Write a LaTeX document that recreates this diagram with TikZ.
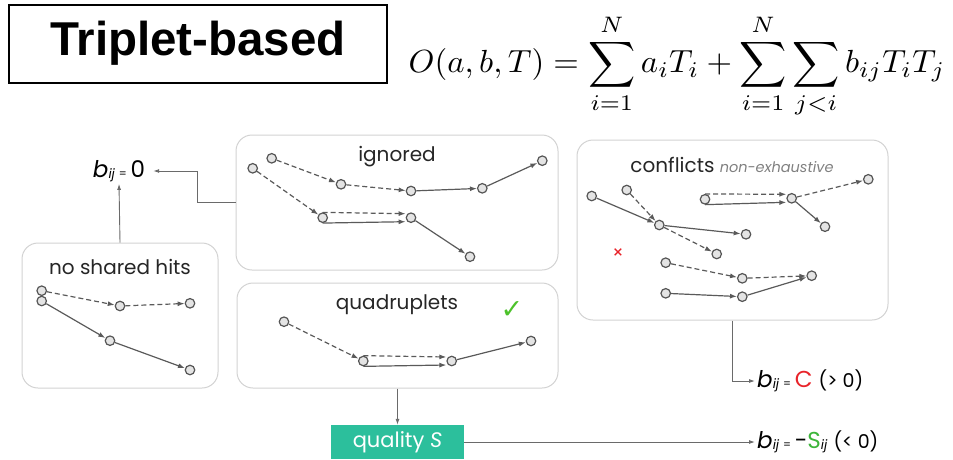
\documentclass[tikz,border=0pt]{standalone}
\usepackage{amsmath}
\usepackage{fontspec}
\usetikzlibrary{arrows.meta,positioning}
\newfontfamily\qfont{Poppins}
\newfontfamily\hfont{Liberation Sans}
\newfontfamily\symfont{DejaVu Sans}
\definecolor{hitfill}{HTML}{E4E4E4}
\definecolor{hitdraw}{HTML}{555555}
\definecolor{trkgray}{HTML}{5A5A5A}
\definecolor{panelgray}{HTML}{D2D2D2}
\definecolor{linkgray}{HTML}{6A6A6A}
\definecolor{qteal}{HTML}{2CBF9C}
\definecolor{cred}{HTML}{E8232A}
\definecolor{cgreen}{HTML}{3DB53A}
\definecolor{chkgreen}{HTML}{4DC22B}
\newcommand{\bijlabel}{{\itshape b}\raisebox{-1pt}{\fontsize{13}{13}\selectfont\itshape ij}\,{\fontsize{11}{11}\selectfont =}\,}

\begin{document}
\begin{tikzpicture}[x=1pt,y=-1pt,
  hit/.style={circle, draw=hitdraw, fill=hitfill, line width=1.2pt, minimum size=9.5pt, inner sep=0pt},
  trk/.style={draw=trkgray, line width=1.2pt, -{Latex[length=7pt,width=5pt]}},
  seed/.style={trk, dash pattern=on 5pt off 3pt},
  panel/.style={draw=panelgray, line width=1pt, rounded corners=16pt, inner sep=0pt},
  link/.style={draw=linkgray, line width=0.9pt, -{Latex[length=6pt,width=4pt]}},
  ptitle/.style={font=\qfont\fontsize{20}{20}\selectfont, text=black!85, inner sep=0pt},
  lab/.style={font=\qfont\fontsize{23}{23}\selectfont, inner sep=2pt}]
\useasboundingbox (0,0) rectangle (953,459);

\node[draw, line width=2pt, minimum width=378pt, minimum height=78pt, inner sep=0pt,
  font=\hfont\bfseries\fontsize{47.5}{47.5}\selectfont] (ttl) at (198,43.5) {Triplet-based};
\node[inner sep=0pt] (obj) at (677,66)
  {\scalebox{3.28}[3.2]{$\displaystyle O(a,b,T)=\sum_{i=1}^{N}a_iT_i+\sum_{i=1}^{N}\sum_{j<i}b_{ij}T_iT_j$}};

\node[panel, minimum width=322pt, minimum height=135pt] (ign) at (397,202.5) {};
\node[panel, minimum width=311pt, minimum height=180pt] (conf) at (732.5,230) {};
\node[panel, minimum width=196pt, minimum height=145pt] (nsh) at (120,315.5) {};
\node[panel, minimum width=321pt, minimum height=105pt] (quad) at (397.5,335.5) {};

\node[ptitle] (tign) at (397,157) {ignored};
\node[ptitle] (tconf) at (732,165) {conflicts {\itshape\fontsize{14.5}{14.5}\selectfont\color{gray} non-exhaustive}};
\node[ptitle] (tnsh) at (120,267) {no shared hits};
\node[ptitle] (tquad) at (397,305) {quadruplets};
\node[text=chkgreen, font=\symfont\fontsize{27}{27}\selectfont, inner sep=0pt] (chk) at (512,310) {✓};
\node[text=cred, font=\symfont\bfseries\fontsize{13}{13}\selectfont, inner sep=0pt] (cross) at (618,253) {×};

\node[hit] (a1) at (271.7,158.3) {};
\node[hit] (a2) at (252.7,168.3) {};
\node[hit] (a3) at (341,184.3) {};
\node[hit] (a4) at (411,191) {};
\node[hit] (a5) at (482.3,188.3) {};
\node[hit] (a6) at (542.3,160.7) {};
\node[hit] (a7) at (322.7,217.7) {};
\node[hit] (a8) at (411,217.7) {};
\node[hit] (a9) at (470,256.7) {};

\node[hit] (b1) at (591.7,196) {};
\node[hit] (b2) at (626.7,190) {};
\node[hit] (b3) at (659.3,225) {};
\node[hit] (b4) at (746,234.3) {};
\node[hit] (b5) at (716.7,254) {};
\node[hit] (b6) at (705,199.3) {};
\node[hit] (b7) at (791.7,198.3) {};
\node[hit] (b8) at (868.3,179.3) {};
\node[hit] (b9) at (825,226.7) {};
\node[hit] (b10) at (665.7,262.7) {};
\node[hit] (b11) at (742.3,278.3) {};
\node[hit] (b12) at (811.7,275.7) {};
\node[hit] (b13) at (665.7,293.3) {};
\node[hit] (b14) at (742.3,296.7) {};

\node[hit] (c1) at (41.7,290.7) {};
\node[hit] (c2) at (41.7,301) {};
\node[hit] (c3) at (120,306) {};
\node[hit] (c4) at (190,303.3) {};
\node[hit] (c5) at (110,340.7) {};
\node[hit] (c6) at (190,370) {};

\node[hit] (d1) at (284,321.7) {};
\node[hit] (d2) at (363.3,361) {};
\node[hit] (d3) at (451.7,361) {};
\node[hit] (d4) at (531,341) {};

\draw[seed] (a1) -- (a3);
\draw[seed] (a3) -- (a4);
\draw[trk] (a4) -- (a5);
\draw[trk] (a5) -- (a6);
\draw[seed] (a2) -- (a7);
\draw[seed] (a7.north) -- ([yshift=4pt]a8.west);
\draw[trk] (a7.south) -- ([yshift=-4pt]a8.west);
\draw[trk] (a8) -- (a9);

\draw[trk] (b1) -- (b3);
\draw[trk] (b3) -- (b4);
\draw[seed] (b2) -- (b3);
\draw[seed] (b3) -- (b5);
\draw[seed] (b6.north) -- ([yshift=4pt]b7.west);
\draw[trk] (b6.south) -- ([yshift=-4pt]b7.west);
\draw[seed] (b7) -- (b8);
\draw[trk] (b7) -- (b9);
\draw[seed] (b10) -- (b11);
\draw[seed] (b11) -- (b12);
\draw[trk] (b13) -- (b14);
\draw[trk] (b14) -- (b12);

\draw[seed] (c1) -- (c3);
\draw[seed] (c3) -- (c4);
\draw[trk] (c2) -- (c5);
\draw[trk] (c5) -- (c6);

\draw[seed] (d1) -- (d2);
\draw[seed] (d2.north) -- ([yshift=4pt]d3.west);
\draw[trk] (d2.south) -- ([yshift=-4pt]d3.west);
\draw[trk] (d3) -- (d4);

\node[lab, inner xsep=8pt] (b0) at (119,171) {\bijlabel 0};
\node[lab, anchor=west] (bC) at (755,381) {\bijlabel\textcolor{cred}{C} {\fontsize{19}{19}\selectfont(> 0)}};
\node[fill=qteal, text=white, minimum width=133pt, minimum height=34pt, inner sep=0pt,
  font=\qfont\fontsize{21}{21}\selectfont] (qual) at (397.5,442) {quality {\itshape S}};
\node[lab, anchor=west] (bS) at (755,442) {\bijlabel-\textcolor{cgreen}{S}\raisebox{-1pt}{\fontsize{13}{13}\selectfont\itshape ij} {\fontsize{19}{19}\selectfont(< 0)}};

\draw[link] (ign.west) -- ++(-38,0) |- (b0.east);
\draw[link] (nsh.north) -- (b0.south);
\draw[link] (conf.south) |- (bC.west);
\draw[link] (quad.south) -- (qual.north);
\draw[link] (qual.east) -- (bS.west);
\end{tikzpicture}
\end{document}
